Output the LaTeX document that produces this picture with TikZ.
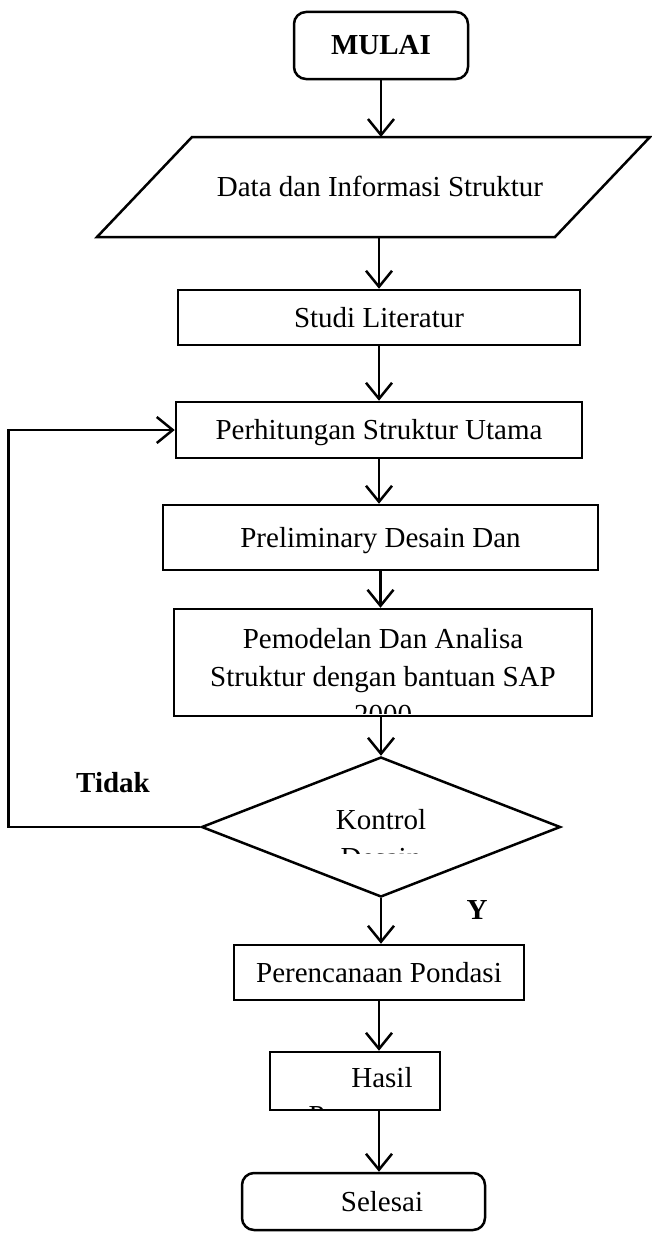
\documentclass[tikz,border=0pt]{standalone}
\usepackage{fontspec}
\setmainfont{Liberation Serif}
\usetikzlibrary{arrows.meta,shapes.geometric}

\begin{document}
\begin{tikzpicture}[x=1pt,y=-1pt,line width=2.5pt,
    every node/.style={font=\fontsize{29}{38}\selectfont},
    terminal/.style={draw,rounded corners=12pt,inner sep=0pt,text height=19pt,text depth=0pt},
    kotak/.style={draw,rectangle,inner sep=0pt,text height=19pt,text depth=0pt},
    kontrol/.style={draw,diamond,inner sep=0pt},
    teks/.style={inner sep=0pt,anchor=base,align=center},
    tebal/.style={teks,font=\fontsize{29}{38}\selectfont\bfseries},
    panah/.style={-{Straight Barb[length=16pt,width=26pt]}}]

  \useasboundingbox (0,0) rectangle (652,1239);

  % kotak-kotak
  \node[terminal,minimum width=174pt,minimum height=67pt,font=\fontsize{29}{38}\selectfont\bfseries] (mulai) at (381,45.5) {MULAI};
  \node[kotak,draw=none,outer sep=0pt,minimum width=553pt,minimum height=100pt] (data) at (373.5,187) {\hspace*{13pt}Data dan Informasi Struktur};
  \draw ([xshift=95pt]data.north west) -- (data.north east)
    -- ([xshift=-95pt]data.south east) -- (data.south west) -- cycle;
  \node[kotak,minimum width=402pt,minimum height=55pt] (studi) at (379,317.5) {Studi Literatur};
  \node[kotak,minimum width=406pt,minimum height=56pt] (perhit) at (379,430) {Perhitungan Struktur Utama};
  \node[kotak,minimum width=435pt,minimum height=65pt] (prelim) at (380.5,537.5) {Preliminary Desain Dan};
  \node[kotak,minimum width=418pt,minimum height=107pt] (pemodel) at (383,662.5) {};
  \node[kontrol,minimum width=359pt,minimum height=140pt] (kontrol) at (381,827) {};
  \node[kotak,minimum width=290pt,minimum height=55pt] (perenc) at (379,972.5) {Perencanaan Pondasi};
  \node[kotak,minimum width=170pt,minimum height=58pt] (hasil) at (355,1081) {};
  \node[terminal,minimum width=243pt,minimum height=57pt] (selesai) at (363.5,1201.5) {};

  % teks yang terpotong
  \begin{scope}
    \clip (176,611) rectangle (590,713);
    \node[teks] (pemodelteks) at (383,724) {Pemodelan Dan Analisa\\Struktur dengan bantuan SAP\\2000};
  \end{scope}
  \begin{scope}
    \clip (200,760) rectangle (560,853);
    \node[teks] (kontrolteks) at (381,867) {Kontrol\\Desain};
  \end{scope}
  \begin{scope}
    \clip (272,1054) rectangle (438,1109);
    \node[teks] (hasilteks) at (382,1125) {Hasil\\Perencanaan};
  \end{scope}
  \node[teks] (selesaiteks) at (382,1211.5) {Selesai};

  \node[tebal] (tidak) at (113,792) {Tidak};
  \node[tebal] (ya) at (477,919) {Y};

  % panah
  \draw[panah] (mulai.south) -- (mulai.south |- data.north);
  \draw[panah] (data.south -| studi.north) -- (studi.north);
  \draw[panah] (studi.south) -- (studi.south |- perhit.north);
  \draw[panah] (perhit.south) -- (perhit.south |- prelim.north);
  \draw[panah] (prelim.south) -- (prelim.south |- pemodel.north);
  \draw[panah] (pemodel.south -| kontrol.north) -- (kontrol.north);
  \draw[panah] (kontrol.south) -- (kontrol.south |- perenc.north);
  \draw[panah] (perenc.south) -- (perenc.south |- hasil.north);
  \draw[panah] (hasil.south -| perenc.south) -- (selesai.north -| perenc.south);
  \draw[panah] (kontrol.west) -- ++(-192,0) |- (perhit.west);

\end{tikzpicture}
\end{document}
